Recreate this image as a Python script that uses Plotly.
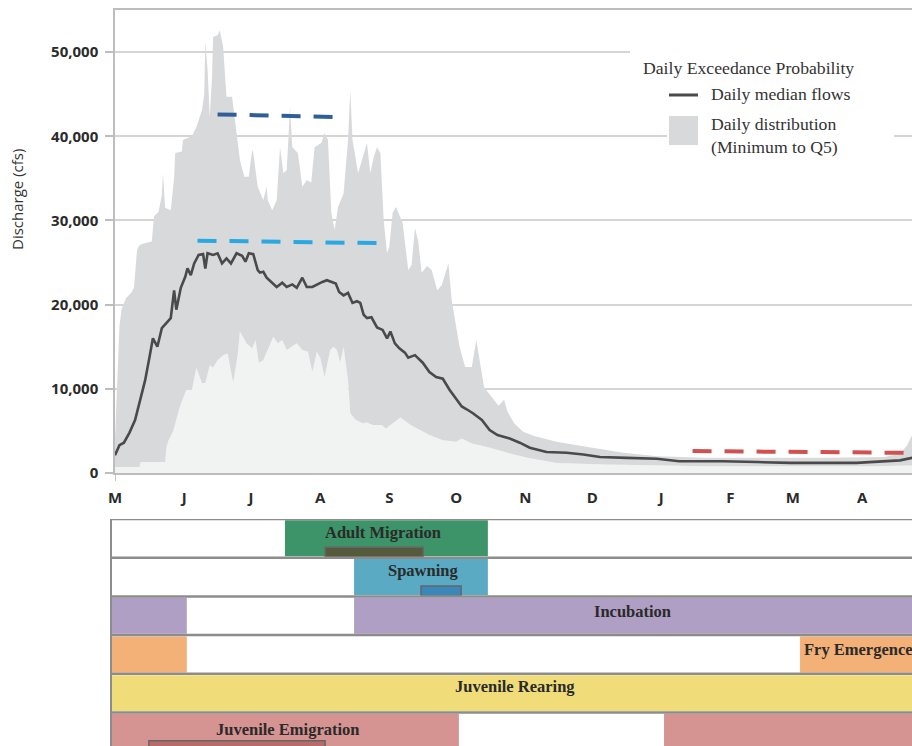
import plotly.graph_objects as go

# ---------------- Hydrograph data (day 0 = May 1) ----------------
q5_day = [0, 1, 2, 3, 5, 7.3, 8.5, 9.9, 10.8, 12, 16.5, 17.5, 19.5, 21, 21.5, 22.5, 25, 26.5, 27, 30,
          30.5, 34.5, 36.5, 39, 40, 40.5, 41.5, 42.5, 43.5, 44, 46, 47, 48.5, 50, 52.5, 54.5, 56, 58,
          60, 61.5, 62, 64, 66.5, 68, 68.5, 70.5, 72.5, 74, 75.5, 77, 78.5, 79.5, 82, 84, 86, 88, 89.5,
          92.5, 94, 95.5, 97, 98.5, 100, 102.5, 104.5, 105.5, 106.5, 109, 111, 113, 114.5, 116, 117.5,
          119, 120.5, 122, 123, 124.5, 126, 129, 131.5, 133, 134.5, 136, 137.5, 140, 142, 144.5, 146.5,
          149.5, 151, 152.5, 154.5, 157, 160, 162, 163.5, 165.5, 169, 172, 174.5, 176, 179, 183, 188,
          198, 212, 228, 243, 265, 290, 320, 345, 352, 355, 357.5]
q5_cfs = [4000, 12000, 17500, 19500, 20800, 21400, 22000, 26500, 27000, 27200, 27500, 30500, 31000,
          33000, 35600, 31500, 31200, 35000, 38000, 38200, 39600, 40000, 41100, 43100, 45000, 51200,
          48000, 42300, 47000, 51800, 52000, 52600, 50600, 44700, 44700, 40400, 37200, 35200, 35200,
          38400, 38000, 34000, 32400, 34000, 32400, 31200, 32400, 38700, 35600, 36000, 43500, 38700,
          38000, 34000, 34800, 34500, 38700, 39200, 40400, 39600, 30900, 28900, 31600, 33200, 39600,
          45500, 39600, 35600, 37500, 39200, 35600, 37500, 38700, 38000, 30000, 26100, 26900, 30900,
          31600, 29700, 24100, 24700, 29100, 27500, 23800, 24600, 24100, 21700, 22300, 24900, 20500,
          18200, 15000, 12600, 12600, 15800, 13500, 10200, 9000, 8000, 8700, 7300, 5900, 4900, 4400,
          3700, 3100, 2400, 2000, 1800, 1800, 1800, 1900, 2300, 3200, 4500]

min_day = [0, 11, 11.5, 22.5, 23, 24, 26, 29, 32, 34.5, 36.5, 39, 40.5, 42.5, 44, 46, 48.5, 50.5, 53,
           55, 56, 59, 61.5, 63, 64.5, 66.5, 68.5, 71, 73, 75, 77, 79, 81.5, 84, 86.5, 88.5, 90.5, 92,
           94, 96.5, 98, 99.5, 101, 102.5, 104.5, 105.5, 108, 111, 113, 115.5, 119.5, 121.5, 125, 128,
           130, 132.5, 136.5, 141, 147, 153, 155.5, 160, 167, 176, 185, 198, 220, 265, 340, 357.5]
min_cfs = [700, 700, 1300, 1300, 3000, 3900, 4900, 7800, 9900, 9900, 12500, 10700, 10700, 12800, 12500,
           13400, 14000, 14200, 10700, 14000, 16800, 15400, 14800, 15800, 13100, 13400, 14600, 16200,
           15400, 15800, 14600, 15000, 15400, 14600, 14400, 12000, 14400, 13700, 11400, 14600, 15000,
           14600, 13100, 15000, 11000, 7100, 6300, 5900, 6000, 5700, 5700, 5300, 6000, 6600, 6200, 5700,
           5100, 4500, 3900, 3700, 4100, 3500, 3100, 2400, 1800, 1200, 1000, 800, 800, 900]

median_day = [0, 2, 4, 6.5, 9, 11, 13.5, 15.5, 17, 19, 21, 23, 25, 26.5, 27.5, 29.5, 31.5, 32.5, 34,
              35.5, 37.5, 39.5, 40.5, 41.5, 44, 46, 48, 50, 52, 54.5, 57, 58.5, 60, 62, 64, 65, 66.5,
              68, 70.5, 72.5, 75, 77, 79.5, 81.5, 84, 86, 88.5, 90.5, 93, 95, 97.5, 99, 100.5, 102.5,
              104.5, 106.5, 108.5, 110, 111.5, 113, 115, 117.5, 120, 122, 123.5, 125.5, 127.5, 130,
              131.5, 134.5, 138, 141, 144, 147, 150, 153.5, 155.5, 157.5, 160.5, 164.5, 168, 171.5,
              177, 181.5, 186, 193.5, 202.5, 210, 217.5, 229.5, 243, 253, 272.5, 288, 303, 332.5,
              344.5, 352, 357.5]
median_cfs = [2100, 3300, 3600, 4800, 6300, 8300, 11000, 13800, 16000, 15000, 17200, 17800, 18400,
              21700, 19400, 22000, 23300, 24300, 23500, 24900, 25900, 26000, 24300, 26100, 25900,
              26100, 24900, 25500, 24900, 26100, 25800, 25100, 26100, 26000, 24100, 23800, 23900,
              23200, 22600, 22100, 22600, 22100, 22400, 22000, 23200, 22100, 22100, 22400, 22700,
              22900, 22700, 22500, 21500, 21100, 21400, 20200, 20400, 20200, 18800, 18400, 18500,
              17300, 17000, 16000, 16800, 15400, 14800, 14300, 13700, 14000, 13100, 12000, 11400,
              11200, 9900, 8700, 7900, 7600, 7100, 6300, 5100, 4500, 4100, 3600, 3000, 2500, 2400,
              2200, 1900, 1800, 1700, 1400, 1400, 1300, 1200, 1200, 1400, 1500, 1800]

# Flow thresholds drawn as dashed segments
threshold_days = [(46, 98), (37, 120), (259, 355)]
threshold_cfs = [(42600, 42300), (27600, 27300), (2600, 2400)]
threshold_colors = ["#2f5f98", "#29a9e0", "#cf5150"]

month_start_days = [0, 31, 61, 92, 123, 153, 184, 214, 245, 276, 304, 335]
month_labels = ["M", "J", "J", "A", "S", "O", "N", "D", "J", "F", "M", "A"]
y_ticks = [0, 10000, 20000, 30000, 40000, 50000]

# ---------------- Life-stage periodicity (day 0 = left border) ----------------
stage_names = ["Adult Migration", "Spawning", "Incubation", "Fry Emergence",
               "Juvenile Rearing", "Juvenile Emigration"]
stage_colors = ["#3d9469", "#5aaac4", "#b09fc4", "#f3b077", "#f0dd7a", "#d59391"]
stage_periods = [
    [(78, 169)],
    [(109, 169)],
    [(0, 34), (109, 366)],
    [(0, 34), (309, 366)],
    [(0, 366)],
    [(0, 156), (248, 366)],
]
peak_rows = [0, 1, 5]
peak_periods = [(96, 140), (139, 157), (17, 96)]
peak_colors = ["#555a3c", "#3b87ba", "#b86b69"]
label_pos = [(122, 0.34, "center"), (140, 1.34, "center"), (234, 2.40, "center"),
             (310, 3.38, "left"), (181, 4.34, "center"), (79, 5.45, "center")]

# ---------------- Figure geometry helpers ----------------
W, H = 912, 746
ML, MT = 111, 10
PW, PH = W - ML, H - MT


def px(x):
    return (x - ML) / PW


def py(y):
    return 1 - (y - MT) / PH


fig = go.Figure()

# light region beneath the minimum
fig.add_trace(go.Scatter(x=min_day, y=min_cfs, mode="lines", line=dict(width=0),
                         fill="tozeroy", fillcolor="#f1f2f2", hoverinfo="skip"))
# daily distribution band (minimum to Q5)
fig.add_trace(go.Scatter(x=q5_day + min_day[::-1], y=q5_cfs + min_cfs[::-1], mode="lines",
                         line=dict(width=0), fill="toself", fillcolor="#d8d9db", hoverinfo="skip"))
# daily median
fig.add_trace(go.Scatter(x=median_day, y=median_cfs, mode="lines",
                         line=dict(color="#4a4a4a", width=2.6), hoverinfo="skip"))
# threshold dashes
for (d0, d1), (v0, v1), c in zip(threshold_days, threshold_cfs, threshold_colors):
    fig.add_trace(go.Scatter(x=[d0, d1], y=[v0, v1], mode="lines",
                             line=dict(color=c, width=4, dash="19px,13px"), hoverinfo="skip"))

# periodicity bars
for row, (periods, col) in enumerate(zip(stage_periods, stage_colors)):
    fig.add_trace(go.Bar(orientation="h", y=[row + 0.5] * len(periods),
                         base=[p[0] for p in periods], x=[p[1] - p[0] for p in periods],
                         width=0.93, marker=dict(color=col, line=dict(width=0)),
                         xaxis="x2", yaxis="y2", hoverinfo="skip"))
for row, (p0, p1), col in zip(peak_rows, peak_periods, peak_colors):
    fig.add_trace(go.Bar(orientation="h", y=[row + 0.86], base=[p0], x=[p1 - p0], width=0.26,
                         marker=dict(color=col, line=dict(color="#666666", width=1.5)),
                         xaxis="x2", yaxis="y2", hoverinfo="skip"))

shapes = []
# row dividers of the periodicity table
for i in range(6):
    shapes.append(dict(type="line", xref="paper", yref="y2", x0=0, x1=1, y0=i, y1=i,
                       line=dict(color="#8c8c8c", width=2.5), layer="above"))
shapes.append(dict(type="line", xref="paper", yref="y2", x0=0, x1=0, y0=0, y1=6,
                   line=dict(color="#8c8c8c", width=2), layer="above"))
# small tick below the axis corner
shapes.append(dict(type="line", xref="x", yref="paper", x0=0, x1=0, y0=py(473), y1=py(481),
                   line=dict(color="#b5b5b5", width=1.5)))
# legend panel
shapes.append(dict(type="rect", xref="paper", yref="paper", x0=px(630), x1=1,
                   y0=py(105), y1=py(30), line=dict(width=0), fillcolor="white", layer="above"))
shapes.append(dict(type="rect", xref="paper", yref="paper", x0=px(667), x1=px(894),
                   y0=py(200), y1=py(104), line=dict(width=0), fillcolor="white", layer="above"))
shapes.append(dict(type="line", xref="paper", yref="paper", x0=px(669), x1=px(698),
                   y0=py(95), y1=py(95), line=dict(color="#4a4a4a", width=3), layer="above"))
shapes.append(dict(type="rect", xref="paper", yref="paper", x0=px(669), x1=px(698),
                   y0=py(145), y1=py(116), line=dict(width=0), fillcolor="#d8d9db", layer="above"))

serif = "Liberation Serif, Times New Roman, serif"
annotations = []


def legend_text(x, y, t):
    annotations.append(dict(xref="paper", yref="paper", x=px(x), y=py(y), text=t,
                            showarrow=False, xanchor="left", yanchor="middle",
                            font=dict(family=serif, size=17.7, color="#333333")))


legend_text(641, 68, "Daily Exceedance Probability")
legend_text(709, 94, "Daily median flows")
legend_text(709, 124, "Daily distribution")
legend_text(709, 147, "(Minimum to Q5)")

annotations.append(dict(xref="paper", yref="paper", x=px(17), y=py(200), text="Discharge (cfs)",
                        textangle=-90, showarrow=False, xanchor="center", yanchor="middle",
                        font=dict(family="Open Sans, sans-serif", size=15, color="#333333")))

for name, (lx, ly, anc) in zip(stage_names, label_pos):
    annotations.append(dict(xref="x2", yref="y2", x=lx, y=ly, text=name, showarrow=False,
                            xanchor=anc, yanchor="middle",
                            font=dict(family=serif, size=16.5, color="#2a2a2a", weight="bold")))

axis_font = dict(family="Open Sans, sans-serif", size=15, color="#2b2b2b", weight="bold")
fig.update_layout(
    template="none",
    width=W, height=H, autosize=False, margin=dict(l=ML, r=0, t=MT, b=0, pad=0),
    paper_bgcolor="white", plot_bgcolor="white", showlegend=False, barmode="overlay",
    xaxis=dict(domain=[px(115), 1], range=[0, (W - 115) / 2.23], tickvals=month_start_days,
               ticktext=month_labels, ticks="", tickfont=axis_font, ticklabelstandoff=10,
               showgrid=False, zeroline=False, showline=True, linecolor="#bdbdbd", linewidth=2,
               mirror=True, automargin=False),
    yaxis=dict(domain=[py(473), 1], range=[0, 55000], tickvals=y_ticks, tickformat=",d",
               tickfont=axis_font, ticks="outside", ticklen=8, tickcolor="#bdbdbd", tickwidth=1.5,
               ticklabelstandoff=4, showgrid=True, gridcolor="#d5d5d5", gridwidth=1.5,
               zeroline=False, showline=True, linecolor="#bdbdbd", linewidth=1.5,
               automargin=False),
    xaxis2=dict(domain=[0, 1], range=[0, PW / 2.23], anchor="y2", visible=False,
                automargin=False),
    yaxis2=dict(domain=[0, py(519)], range=[(746 - 519) / 38.7, 0], anchor="x2", visible=False,
                automargin=False),
    shapes=shapes, annotations=annotations,
)

fig.write_html("out.html")
